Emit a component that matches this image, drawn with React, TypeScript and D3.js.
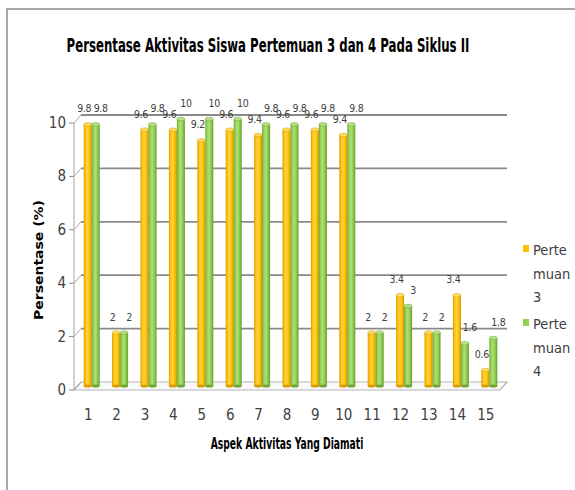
import React, { useLayoutEffect, useRef, useState } from "react";
import * as d3 from "d3";

const categories = ["1", "2", "3", "4", "5", "6", "7", "8", "9", "10", "11", "12", "13", "14", "15"];
const pertemuan3 = [9.8, 2, 9.6, 9.6, 9.2, 9.6, 9.4, 9.6, 9.6, 9.4, 2, 3.4, 2, 3.4, 0.6];
const pertemuan4 = [9.8, 2, 9.8, 10, 10, 10, 9.8, 9.8, 9.8, 9.8, 2, 3, 2, 1.6, 1.8];
const yTicks = [0, 2, 4, 6, 8, 10];
const seriesNames = ["Pertemuan 3", "Pertemuan 4"];

const W = 575;
const H = 490;
const narrow = "'Liberation Sans Narrow', 'DejaVu Sans Condensed', 'Open Sans', sans-serif";
const DX = 7; // 3d depth
const DY = -8;

// text squeezed horizontally to a given width (chart fonts are condensed)
function FitText({ x, y, width, rotate = 0, children, ...rest }: any) {
  const ref = useRef<SVGTextElement>(null);
  const [k, setK] = useState(1);
  useLayoutEffect(() => {
    if (ref.current) {
      const len = ref.current.getComputedTextLength();
      if (len > 0) setK(width / len);
    }
  }, [width, children]);
  return (
    <g transform={`translate(${x},${y}) rotate(${rotate})`}>
      <text ref={ref} transform={`scale(${k},1)`} textAnchor="middle" {...rest}>
        {children}
      </text>
    </g>
  );
}

function App() {
  const x = d3.scaleBand<string>().domain(categories).range([74, 500]);
  const y = d3.scaleLinear().domain([0, 10]).range([390, 123]);
  const barW = 8;
  const series = [
    { name: seriesNames[0], values: pertemuan3, grad: "gOrange", top: "#ffd966", edge: "#d89b00", swatch: "#ffc000", labelDx: -3.5 },
    { name: seriesNames[1], values: pertemuan4, grad: "gGreen", top: "#b8e08c", edge: "#6fa530", swatch: "#92d050", labelDx: 5 },
  ];

  const bx = DX / 2;
  const by = DY / 2;

  return (
    <svg width={W} height={H} style={{ position: "fixed", left: 0, top: 0, background: "#fff" }}>
      <defs>
        <linearGradient id="gOrange" x1="0" x2="1" y1="0" y2="0">
          <stop offset="0" stopColor="#d99a00" />
          <stop offset="0.2" stopColor="#ffc000" />
          <stop offset="0.45" stopColor="#ffd24a" />
          <stop offset="0.75" stopColor="#ffbf00" />
          <stop offset="1" stopColor="#c98f00" />
        </linearGradient>
        <linearGradient id="gGreen" x1="0" x2="1" y1="0" y2="0">
          <stop offset="0" stopColor="#6ea532" />
          <stop offset="0.2" stopColor="#92d050" />
          <stop offset="0.45" stopColor="#aee07a" />
          <stop offset="0.75" stopColor="#8cc94a" />
          <stop offset="1" stopColor="#66992c" />
        </linearGradient>
      </defs>

      <rect x={7} y={9} width={620} height={520} fill="#fff" stroke="#8c8c8c" strokeWidth={1.5} />

      <FitText x={268} y={52} width={403} fontFamily={narrow} fontWeight="bold" fontSize={19} fill="#000">
        Persentase Aktivitas Siswa Pertemuan 3 dan 4 Pada Siklus II
      </FitText>

      {/* floor */}
      <path
        d={`M74,${y(0)} L500,${y(0)} L${500 + DX},${y(0) + DY} L${74 + DX},${y(0) + DY} Z`}
        fill="#fafafa" stroke="#b3b3b3" strokeWidth={1.2}
      />
      {/* back wall gridlines */}
      {yTicks.filter((t) => t > 0).map((t) => (
        <line key={"g" + t} x1={74 + DX} x2={500 + DX} y1={y(t) + DY} y2={y(t) + DY} stroke="#8a8a8a" strokeWidth={1.8} />
      ))}
      {/* side wall */}
      {yTicks.map((t) => (
        <g key={"s" + t}>
          <line x1={74} x2={74 + DX} y1={y(t)} y2={y(t) + DY} stroke="#a6a6a6" strokeWidth={1} />
          <line x1={69} x2={74} y1={y(t)} y2={y(t)} stroke="#8a8a8a" strokeWidth={1} />
        </g>
      ))}
      <line x1={74} x2={74} y1={y(10)} y2={y(0)} stroke="#a6a6a6" strokeWidth={1} />

      {/* bars */}
      {categories.map((c, i) => {
        const cx = (x(c) as number) + x.bandwidth() / 2 + bx;
        return series.map((s, si) => {
          const left = cx - barW + si * barW;
          const v = s.values[i];
          const top = y(v) + by;
          const bottom = y(0) + by;
          return (
            <g key={c + s.name}>
              <rect x={left} y={top} width={barW} height={bottom - top} fill={`url(#${s.grad})`} />
              <ellipse cx={left + barW / 2} cy={bottom} rx={barW / 2} ry={1.6} fill={s.edge} />
              <ellipse cx={left + barW / 2} cy={top} rx={barW / 2} ry={1.8} fill={s.top} stroke={s.edge} strokeWidth={0.5} />
            </g>
          );
        });
      })}

      {/* data labels */}
      {categories.map((c, i) => {
        const cx = (x(c) as number) + x.bandwidth() / 2 + bx;
        return series.map((s, si) => {
          const barCx = cx - barW / 2 + si * barW;
          const v = s.values[i];
          return (
            <text key={"l" + c + s.name} x={barCx + s.labelDx} y={y(v) + by - 12} textAnchor="middle"
              fontFamily={narrow} fontSize={10.5} letterSpacing={-0.3} fill="#404040">
              {v}
            </text>
          );
        });
      })}

      {/* y tick labels */}
      {yTicks.map((t) => (
        <text key={"yt" + t} x={66} y={y(t) + 5} textAnchor="end" fontFamily={narrow} fontSize={15} fill="#404040">
          {t}
        </text>
      ))}
      {/* x tick labels */}
      {categories.map((c) => (
        <text key={"xt" + c} x={(x(c) as number) + x.bandwidth() / 2} y={420} textAnchor="middle"
          fontFamily={narrow} fontSize={15} fill="#404040">
          {c}
        </text>
      ))}

      <FitText x={43} y={260} rotate={-90} width={120} fontFamily="'DejaVu Sans', sans-serif"
        fontWeight="bold" fontSize={12.5} fill="#000">
        Persentase (%)
      </FitText>
      <FitText x={287} y={449} width={153} fontFamily={narrow} fontWeight="bold" fontSize={15} fill="#000">
        Aspek Aktivitas Yang Diamati
      </FitText>

      {/* legend */}
      {series.map((s, si) => {
        const y0 = 250 + si * 74;
        const words = s.name.split(" ");
        const lines = [words[0].slice(0, 5), words[0].slice(5), words[1]];
        return (
          <g key={"lg" + s.name}>
            <rect x={523} y={y0 - 5} width={6} height={7} fill={s.swatch} />
            {lines.map((ln, li) => (
              <text key={li} x={533} y={y0 + 5 + li * 23.5} fontFamily={narrow} fontSize={14.5} fill="#404040">
                {ln}
              </text>
            ))}
          </g>
        );
      })}
    </svg>
  );
}

export default App;
